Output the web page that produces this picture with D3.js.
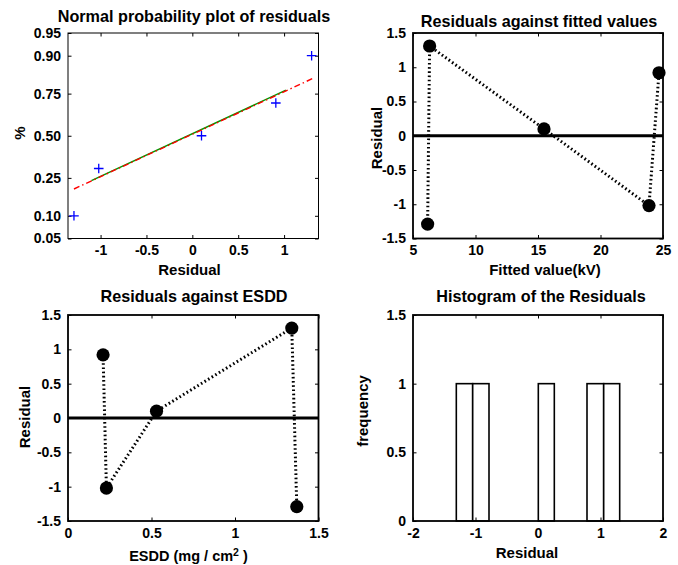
<!DOCTYPE html>
<html><head><meta charset="utf-8">
<script src="https://cdn.jsdelivr.net/npm/d3@7"></script>
<style>
body{margin:0;background:#fff;}
svg text{font-family:"Liberation Sans",Arial,Helvetica,sans-serif;font-weight:bold;fill:#000;}
</style></head><body>
<svg id="c" width="678" height="565"></svg>
<script>
// ---------------- data ----------------
const residual = [-1.29, 1.31, 0.10, -1.02, 0.92];   // ordered by fitted value
const fitted   = [6.17, 6.33, 15.48, 23.88, 24.68];
const esdd     = [1.37, 1.34, 0.53, 0.23, 0.21];

const normResidual = [-1.29, -1.02, 0.10, 0.91, 1.30];
const normProb     = [0.10, 0.30, 0.50, 0.70, 0.90];
const fitSolidX = [-1.10, 1.02];
const fitSolidP = [0.236, 0.767];
const fitDashX  = [-1.29, 1.31];
const fitDashP  = [0.197, 0.820];

const histEdges  = [-1.307, -1.045, -0.784, -0.523, -0.262, 0.005, 0.261, 0.523, 0.784, 1.051, 1.307];
const histCounts = [1, 1, 0, 0, 0, 1, 0, 0, 1, 1];

const normXLim   = [-1.355, 1.375];
const normYTicks = [0.05, 0.10, 0.25, 0.50, 0.75, 0.90, 0.95];
const normXTicks = [-1, -0.5, 0, 0.5, 1];
const resLim     = [-1.5, 1.5];
const resTicks   = [-1.5, -1, -0.5, 0, 0.5, 1, 1.5];
const fittedLim  = [5, 25];
const fittedTicks= [5, 10, 15, 20, 25];
const esddLim    = [0, 1.5];
const esddTicks  = [0, 0.5, 1, 1.5];
const histXLim   = [-2, 2];
const histXTicks = [-2, -1, 0, 1, 2];
const freqLim    = [0, 1.5];
const freqTicks  = [0, 0.5, 1, 1.5];

// ---------------- helpers ----------------
function norminv(p){
  const a=[-3.969683028665376e+01,2.209460984245205e+02,-2.759285104469687e+02,1.383577518672690e+02,-3.066479806614716e+01,2.506628277459239e+00];
  const b=[-5.447609879822406e+01,1.615858368580409e+02,-1.556989798598866e+02,6.680131188771972e+01,-1.328068155288572e+01];
  const c=[-7.784894002430293e-03,-3.223964580411365e-01,-2.400758277161838e+00,-2.549732539343734e+00,4.374664141464968e+00,2.938163982698783e+00];
  const d=[7.784695709041462e-03,3.224671290700398e-01,2.445134137142996e+00,3.754408661907416e+00];
  const pl=0.02425;
  let q,r;
  if(p<pl){q=Math.sqrt(-2*Math.log(p));return (((((c[0]*q+c[1])*q+c[2])*q+c[3])*q+c[4])*q+c[5])/((((d[0]*q+d[1])*q+d[2])*q+d[3])*q+1);}
  if(p>1-pl){q=Math.sqrt(-2*Math.log(1-p));return -(((((c[0]*q+c[1])*q+c[2])*q+c[3])*q+c[4])*q+c[5])/((((d[0]*q+d[1])*q+d[2])*q+d[3])*q+1);}
  q=p-0.5;r=q*q;
  return (((((a[0]*r+a[1])*r+a[2])*r+a[3])*r+a[4])*r+a[5])*q/(((((b[0]*r+b[1])*r+b[2])*r+b[3])*r+b[4])*r+1);
}

const svg = d3.select("#c");
const TICK = 3.5;
const TICKFONT = "14px";
const TITLEFONT = 16.2;
const LABELFONT = 15;

function panel(box, xs, ys, xTicks, yTicks, xFmt, yFmt, bw){
  const g = svg.append("g");
  const gx = g.append("g").attr("transform",`translate(0,${box.y1})`)
    .call(d3.axisBottom(xs).tickValues(xTicks).tickFormat(xFmt).tickSizeInner(-TICK).tickSizeOuter(0).tickPadding(7));
  const gxt = g.append("g").attr("transform",`translate(0,${box.y0})`)
    .call(d3.axisTop(xs).tickValues(xTicks).tickFormat("").tickSizeInner(-TICK).tickSizeOuter(0));
  const gy = g.append("g").attr("transform",`translate(${box.x0},0)`)
    .call(d3.axisLeft(ys).tickValues(yTicks).tickFormat(yFmt).tickSizeInner(-TICK).tickSizeOuter(0).tickPadding(7));
  const gyr = g.append("g").attr("transform",`translate(${box.x1},0)`)
    .call(d3.axisRight(ys).tickValues(yTicks).tickFormat("").tickSizeInner(-TICK).tickSizeOuter(0));
  [gx,gxt,gy,gyr].forEach(a=>{
    a.select(".domain").remove();
    a.selectAll(".tick line").attr("stroke","#000").attr("stroke-width",1);
    a.selectAll("text").attr("font-size",TICKFONT).attr("font-family",null).attr("fill","#000");
  });
  g.append("rect").attr("x",box.x0).attr("y",box.y0)
    .attr("width",box.x1-box.x0).attr("height",box.y1-box.y0)
    .attr("fill","none").attr("stroke","#000").attr("stroke-width",bw);
  return g;
}
function label(txt,x,y,size,rot){
  const t = svg.append("text").attr("text-anchor","middle").attr("font-size",size+"px").text(txt);
  if(rot) t.attr("transform",`translate(${x},${y}) rotate(-90)`);
  else t.attr("x",x).attr("y",y);
  return t;
}

const TL = {x0:68, x1:318.5, y0:33, y1:238.5};
const TR = {x0:413, x1:663, y0:33, y1:238.5};
const BL = {x0:68, x1:318.5, y0:315, y1:521};
const BR = {x0:413, x1:663, y0:315, y1:521};
const fmtPlain = d => String(d);
const DOT = {w:3, dash:"1.6,2.6"};
const R = 6.6;

// ---------------- panel 1: normal probability plot ----------------
{
  const xs = d3.scaleLinear().domain(normXLim).range([TL.x0, TL.x1]);
  const zs = d3.scaleLinear().domain([norminv(0.05), norminv(0.95)]).range([TL.y1, TL.y0]);
  const ys = p => zs(norminv(p));
  const zTicks = normYTicks.map(norminv);
  panel(TL, xs, zs, normXTicks, zTicks, fmtPlain,
        z => d3.format(".2f")(normYTicks[zTicks.indexOf(z)]), 1);
  const line = d3.line().x(d=>xs(d[0])).y(d=>ys(d[1]));
  svg.append("path").attr("d", line(d3.zip(fitSolidX, fitSolidP)))
    .attr("stroke","#009900").attr("stroke-width",1.4).attr("fill","none");
  svg.append("path").attr("d", line(d3.zip(fitDashX, fitDashP)))
    .attr("stroke","#ff0000").attr("stroke-width",1.4).attr("fill","none")
    .attr("stroke-dasharray","6,3,1.5,3");
  const s = 4.8;
  const pts = svg.append("g").selectAll("g").data(d3.zip(normResidual, normProb)).join("g")
    .attr("transform", d=>`translate(${xs(d[0])},${ys(d[1])})`);
  pts.append("path").attr("d",`M${-s},0H${s}M0,${-s}V${s}`)
    .attr("stroke","#0000ff").attr("stroke-width",1.3).attr("fill","none");
  label("Normal probability plot of residuals", 194, 21.5, TITLEFONT);
  label("Residual", 189.5, 275, LABELFONT);
  label("%", 25, 133, LABELFONT, true);
}

// ---------------- panel 2: residuals vs fitted ----------------
{
  const xs = d3.scaleLinear().domain(fittedLim).range([TR.x0, TR.x1]);
  const ys = d3.scaleLinear().domain(resLim).range([TR.y1, TR.y0]);
  panel(TR, xs, ys, fittedTicks, resTicks, fmtPlain, fmtPlain, 1.8);
  svg.append("path").attr("d", d3.line()([[xs(fittedLim[0]), ys(0)], [xs(fittedLim[1]), ys(0)]]))
    .attr("stroke","#000").attr("stroke-width",3);
  svg.append("path").attr("d", d3.line().x(d=>xs(d[0])).y(d=>ys(d[1]))(d3.zip(fitted, residual)))
    .attr("stroke","#000").attr("stroke-width",DOT.w).attr("fill","none").attr("stroke-dasharray",DOT.dash);
  svg.append("g").selectAll("circle").data(d3.zip(fitted, residual)).join("circle")
    .attr("cx",d=>xs(d[0])).attr("cy",d=>ys(d[1])).attr("r",R).attr("fill","#000");
  label("Residuals against fitted values", 539, 26.5, TITLEFONT);
  label("Fitted value(kV)", 545, 274.5, LABELFONT);
  label("Residual", 382, 138, LABELFONT, true);
}

// ---------------- panel 3: residuals vs ESDD ----------------
{
  const xs = d3.scaleLinear().domain(esddLim).range([BL.x0, BL.x1]);
  const ys = d3.scaleLinear().domain(resLim).range([BL.y1, BL.y0]);
  panel(BL, xs, ys, esddTicks, resTicks, fmtPlain, fmtPlain, 1.8);
  svg.append("path").attr("d", d3.line()([[xs(esddLim[0]), ys(0)], [xs(esddLim[1]), ys(0)]]))
    .attr("stroke","#000").attr("stroke-width",3);
  const pts = d3.zip(esdd, residual).sort((a,b)=>a[0]-b[0]);
  svg.append("path").attr("d", d3.line().x(d=>xs(d[0])).y(d=>ys(d[1]))(pts))
    .attr("stroke","#000").attr("stroke-width",DOT.w).attr("fill","none").attr("stroke-dasharray",DOT.dash);
  svg.append("g").selectAll("circle").data(pts).join("circle")
    .attr("cx",d=>xs(d[0])).attr("cy",d=>ys(d[1])).attr("r",R).attr("fill","#000");
  label("Residuals against ESDD", 194, 301.5, TITLEFONT);
  const t = svg.append("text").attr("text-anchor","middle").attr("x",188.5).attr("y",561).attr("font-size","14.5px");
  t.append("tspan").text("ESDD (mg / cm");
  t.append("tspan").attr("font-size","10.5px").attr("dy","-5").text("2");
  t.append("tspan").attr("dy","5").text(" )");
  label("Residual", 30, 417, LABELFONT, true);
}

// ---------------- panel 4: histogram ----------------
{
  const xs = d3.scaleLinear().domain(histXLim).range([BR.x0, BR.x1]);
  const ys = d3.scaleLinear().domain(freqLim).range([BR.y1, BR.y0]);
  const bins = histCounts.map((c,i)=>({x0:histEdges[i], x1:histEdges[i+1], c}));
  svg.append("g").selectAll("rect").data(bins).join("rect")
    .attr("x",d=>xs(d.x0)).attr("width",d=>xs(d.x1)-xs(d.x0))
    .attr("y",d=>ys(d.c)).attr("height",d=>ys(0)-ys(d.c))
    .attr("fill","#fff").attr("stroke","#000").attr("stroke-width",1.6);
  panel(BR, xs, ys, histXTicks, freqTicks, fmtPlain, fmtPlain, 1.8);
  label("Histogram of the Residuals", 541, 301.5, TITLEFONT);
  label("Residual", 527, 558, LABELFONT);
  label("frequency", 368, 411, LABELFONT, true);
}
</script>
</body></html>
